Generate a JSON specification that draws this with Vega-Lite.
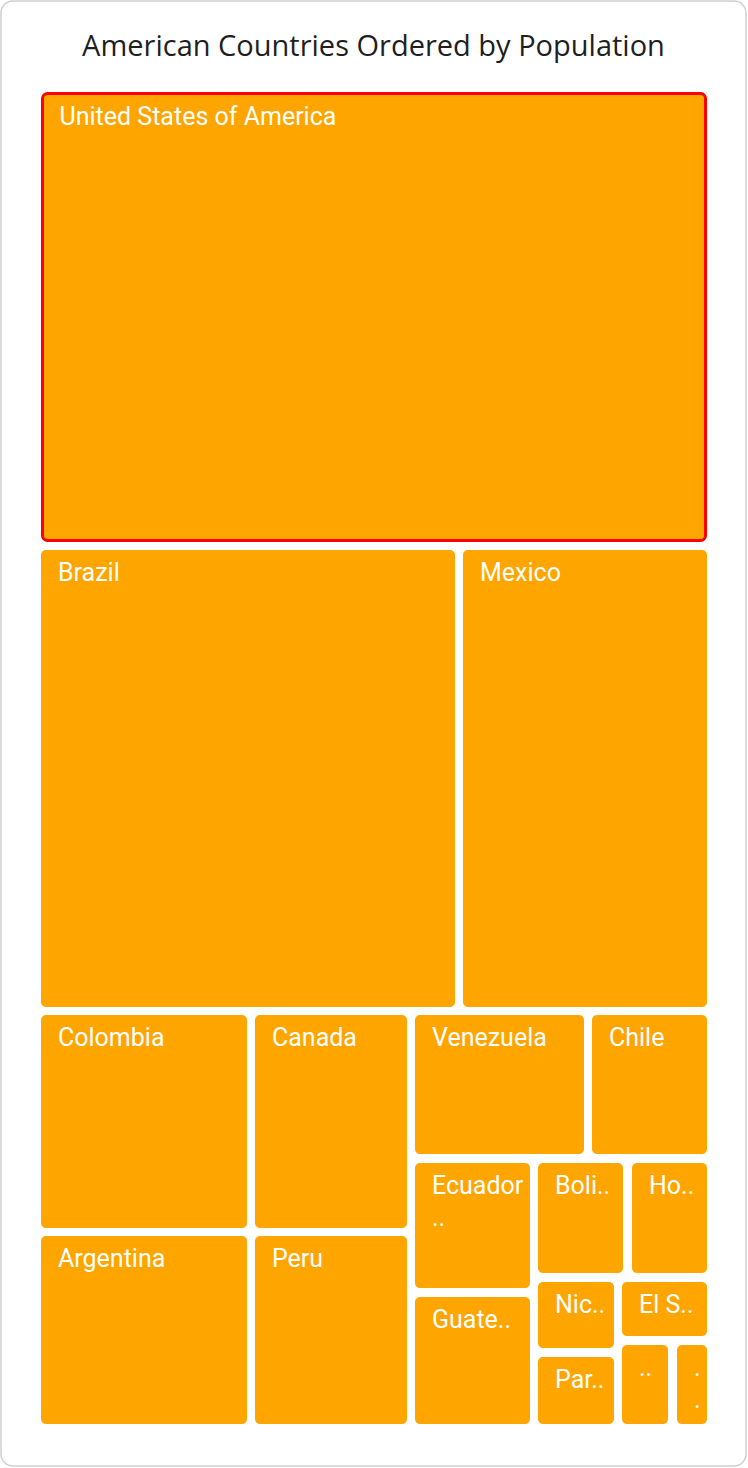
{
  "$schema": "https://vega.github.io/schema/vega-lite/v6.json",
  "width": 745,
  "height": 1465,
  "autosize": {"type": "none"},
  "padding": {"left": 1, "top": 1, "right": 2, "bottom": 2},
  "background": "white",
  "view": {"stroke": "#d0d0d0", "strokeWidth": 1.5, "cornerRadius": 12, "fill": "white"},
  "title": {
    "text": "American Countries Ordered by Population",
    "font": "Open Sans",
    "fontSize": 29,
    "fontWeight": "normal",
    "color": "#1f1f1f",
    "anchor": "middle",
    "baseline": "middle",
    "offset": -75
  },
  "data": {
    "values": [
      {"country": "United States of America", "label": "United States of America", "population": 331.0, "x0": 1.5, "x1": 664.5, "y0": 1.5, "y1": 448.5},
      {"country": "Brazil", "label": "Brazil", "population": 212.6, "x0": 0, "x1": 414, "y0": 458, "y1": 915},
      {"country": "Mexico", "label": "Mexico", "population": 128.9, "x0": 422, "x1": 666, "y0": 458, "y1": 915},
      {"country": "Colombia", "label": "Colombia", "population": 50.9, "x0": 0, "x1": 206, "y0": 923, "y1": 1136},
      {"country": "Argentina", "label": "Argentina", "population": 45.4, "x0": 0, "x1": 206, "y0": 1144, "y1": 1332},
      {"country": "Canada", "label": "Canada", "population": 37.7, "x0": 214, "x1": 366, "y0": 923, "y1": 1136},
      {"country": "Peru", "label": "Peru", "population": 33.0, "x0": 214, "x1": 366, "y0": 1144, "y1": 1332},
      {"country": "Venezuela", "label": "Venezuela", "population": 28.4, "x0": 374, "x1": 543, "y0": 923, "y1": 1062},
      {"country": "Chile", "label": "Chile", "population": 19.1, "x0": 551, "x1": 666, "y0": 923, "y1": 1062},
      {"country": "Ecuador", "label": "Ecuador\n..", "population": 17.6, "x0": 374, "x1": 489, "y0": 1071, "y1": 1196},
      {"country": "Guatemala", "label": "Guate..", "population": 17.9, "x0": 374, "x1": 489, "y0": 1205, "y1": 1332},
      {"country": "Bolivia", "label": "Boli..", "population": 11.7, "x0": 497, "x1": 582, "y0": 1071, "y1": 1181},
      {"country": "Honduras", "label": "Ho..", "population": 9.9, "x0": 591, "x1": 666, "y0": 1071, "y1": 1181},
      {"country": "Nicaragua", "label": "Nic..", "population": 6.6, "x0": 497, "x1": 573, "y0": 1190, "y1": 1256},
      {"country": "El Salvador", "label": "El S..", "population": 6.5, "x0": 581, "x1": 666, "y0": 1190, "y1": 1244},
      {"country": "Paraguay", "label": "Par..", "population": 7.1, "x0": 497, "x1": 573, "y0": 1265, "y1": 1332},
      {"country": "Costa Rica", "label": "..", "population": 5.1, "x0": 581, "x1": 627, "y0": 1253, "y1": 1332},
      {"country": "Panama", "label": ".\n.", "population": 4.3, "x0": 636, "x1": 666, "y0": 1253, "y1": 1332}
    ]
  },
  "encoding": {
    "x": {"field": "x0", "type": "quantitative", "axis": null, "scale": {"domain": [-40, 705], "nice": false, "zero": false}},
    "y": {"field": "y0", "type": "quantitative", "axis": null, "scale": {"domain": [-91, 1374], "nice": false, "zero": false, "reverse": true}}
  },
  "layer": [
    {
      "mark": {"type": "rect", "color": "#FFA500", "cornerRadius": 5, "opacity": 1},
      "encoding": {
        "x2": {"field": "x1"},
        "y2": {"field": "y1"},
        "stroke": {
          "condition": {"test": "datum.country === 'United States of America'", "value": "#FF0000"},
          "value": "transparent"
        },
        "strokeWidth": {"value": 3},
        "tooltip": [
          {"field": "country", "type": "nominal", "title": "Country"},
          {"field": "population", "type": "quantitative", "title": "Population (M)"}
        ]
      }
    },
    {
      "mark": {
        "type": "text",
        "align": "left",
        "baseline": "middle",
        "dx": 17,
        "dy": 23,
        "font": "Roboto",
        "fontSize": 25,
        "color": "white",
        "lineBreak": "\n",
        "lineHeight": 32
      },
      "encoding": {
        "text": {"field": "label"}
      }
    }
  ]
}
